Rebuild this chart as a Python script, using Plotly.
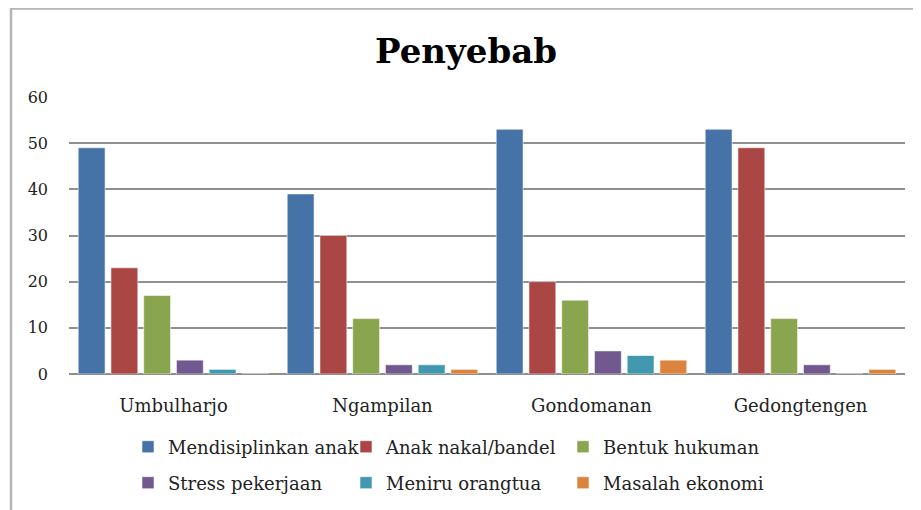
import plotly.graph_objects as go

categories = ["Umbulharjo", "Ngampilan", "Gondomanan", "Gedongtengen"]
series_names = ["Mendisiplinkan anak", "Anak nakal/bandel", "Bentuk hukuman",
                "Stress pekerjaan", "Meniru orangtua", "Masalah ekonomi"]
mendisiplinkan = [49, 39, 53, 53]
anak_nakal = [23, 30, 20, 49]
bentuk_hukuman = [17, 12, 16, 12]
stress_pekerjaan = [3, 2, 5, 2]
meniru_orangtua = [1, 2, 4, 0]
masalah_ekonomi = [0, 1, 3, 1]
y_ticks = [0, 10, 20, 30, 40, 50, 60]

series_values = [mendisiplinkan, anak_nakal, bentuk_hukuman,
                 stress_pekerjaan, meniru_orangtua, masalah_ekonomi]
colors = ["#4572A7", "#AA4643", "#89A54E", "#71588F", "#4198AF", "#DB843D"]

# the page body adds an 8px offset; work in page pixels and subtract it
OFF = 8
W, H = 921 - OFF, 510 - OFF
ML = 69 - OFF
MT = 97 - OFF
PLOT_RIGHT = 905 - OFF
PLOT_BOTTOM = 374 - OFF
MR = W - PLOT_RIGHT
MB = H - PLOT_BOTTOM
PW = W - ML - MR
PH = H - MT - MB

FONT = "DejaVu Serif"

def px_x(p):
    return (p - OFF - ML) / PW

def px_y(p):
    return (PLOT_BOTTOM - (p - OFF)) / PH

def cx(p):
    return (p - OFF) / W

def cy(p):
    return 1 - (p - OFF) / H

leg_text_x = [168, 386, 603]
leg_row_y = [447, 483]
legend_names = ["legend", "legend2", "legend3", "legend4", "legend5", "legend6"]

fig = go.Figure()
for i, (name, vals) in enumerate(zip(series_names, series_values)):
    fig.add_trace(go.Bar(
        x=categories, y=vals, name=name,
        marker=dict(color=colors[i], line=dict(color="rgba(255,255,255,0.55)", width=1)),
        legend=legend_names[i],
    ))

layout_legends = {}
for i in range(6):
    col = i % 3
    row = i // 3
    layout_legends[legend_names[i]] = dict(
        x=cx(leg_text_x[col] - 40), y=cy(leg_row_y[row]),
        xref="container", yref="container",
        xanchor="left", yanchor="middle",
        font=dict(family=FONT, size=18, color="#222"),
        bgcolor="rgba(0,0,0,0)", borderwidth=0,
    )

fig.update_layout(
    width=W, height=H,
    margin=dict(l=ML, r=MR, t=MT, b=MB, autoexpand=False),
    paper_bgcolor="white", plot_bgcolor="white",
    barmode="group", bargap=0.06, bargroupgap=0.18,
    showlegend=True,
    title=dict(text="<b>Penyebab</b>", x=cx(466), xref="container",
               y=cy(51), yref="container", xanchor="center", yanchor="middle",
               font=dict(family=FONT, size=34, color="black")),
    xaxis=dict(showgrid=False, showline=False, ticks="", automargin=False,
               tickfont=dict(family=FONT, size=18, color="#222"),
               ticklabelstandoff=19),
    yaxis=dict(range=[0, 60], tickvals=y_ticks, showgrid=True, automargin=False,
               gridcolor="#8f8f8f", gridwidth=1.5, zeroline=True,
               zerolinecolor="#8f8f8f", zerolinewidth=1.5, showline=False,
               tickfont=dict(family=FONT, size=16, color="#222"),
               ticklabelstandoff=20),
    shapes=[dict(type="rect", xref="paper", yref="paper",
                 x0=px_x(11), x1=px_x(921 + 20), y0=px_y(8.5), y1=px_y(510 + 20),
                 line=dict(color="#b5b5b5", width=2.5), fillcolor="rgba(0,0,0,0)",
                 layer="below")],
    **layout_legends,
)

fig.write_html("out.html")
